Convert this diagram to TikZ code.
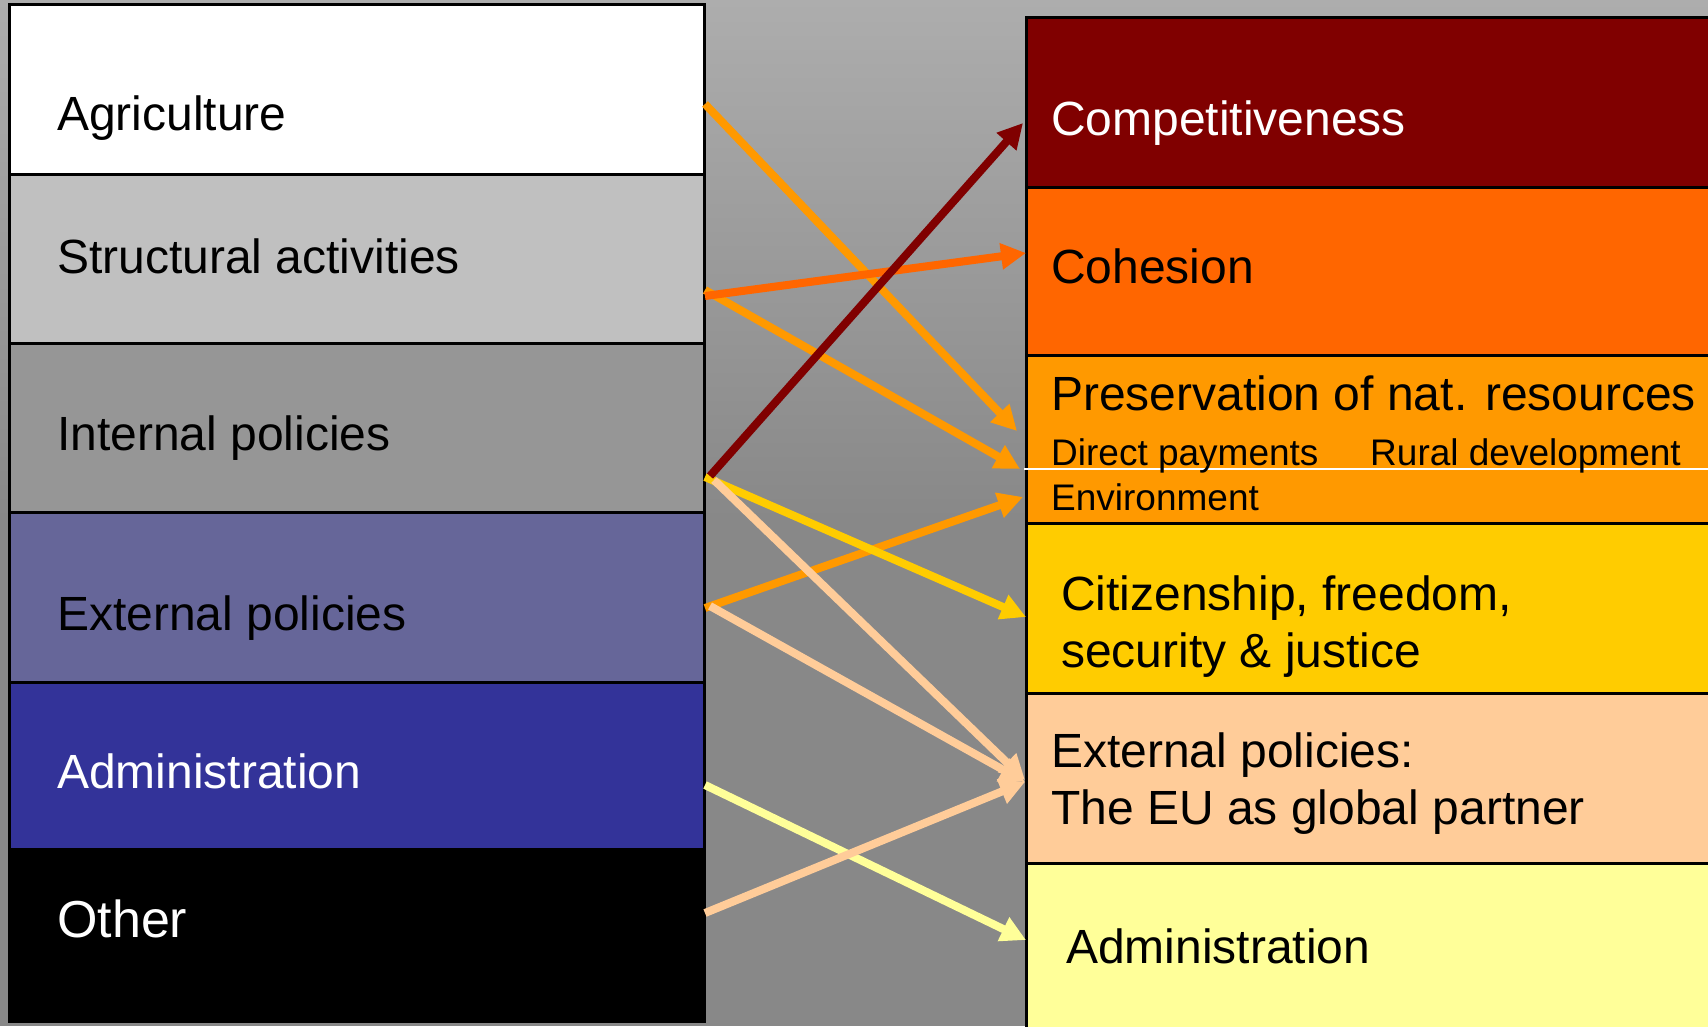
\documentclass[tikz,border=0pt]{standalone}
\usepackage{fontspec}
\setmainfont{Liberation Sans}
\usetikzlibrary{arrows.meta}
\definecolor{bgtop}{HTML}{ADADAD}
\definecolor{bgbot}{HTML}{888888}
\definecolor{cStruct}{HTML}{C0C0C0}
\definecolor{cInt}{HTML}{969696}
\definecolor{cExt}{HTML}{666699}
\definecolor{cAdm}{HTML}{333399}
\definecolor{cComp}{HTML}{800000}
\definecolor{cCoh}{HTML}{FF6600}
\definecolor{cPres}{HTML}{FF9900}
\definecolor{cCit}{HTML}{FFCC00}
\definecolor{cExtR}{HTML}{FFCC99}
\definecolor{cAdmR}{HTML}{FFFF99}
\begin{document}
\begin{tikzpicture}[x=1pt,y=-1pt,
 box/.style={draw=black,line width=3pt,rectangle,anchor=north west,inner sep=0pt,outer sep=0pt},
 lbox/.style={box,minimum width=695pt},
 rbox/.style={box,minimum width=700pt},
 lbl/.style={anchor=base west,inner sep=0pt,font=\fontsize{48}{58}\selectfont},
 sml/.style={anchor=base west,inner sep=0pt,font=\fontsize{37}{44}\selectfont},
 conn/.style={line width=8pt,-{Triangle[length=25pt,width=25pt]}},
]
\useasboundingbox (0,0) rectangle (1708,1026);
% background
\shade[top color=bgtop,bottom color=bgbot] (0,0) rectangle (1708,520);
\fill[bgbot] (0,519) rectangle (1708,1026);

% left column
\node[lbox,fill=white,minimum height=170pt] (agri) at (9,4) {};
\node[lbox,fill=cStruct,minimum height=169pt] (struct) at (9,174) {};
\node[lbox,fill=cInt,minimum height=169pt] (intern) at (9,343) {};
\node[lbox,fill=cExt,minimum height=170pt] (extern) at (9,512) {};
\node[lbox,fill=cAdm,minimum height=167pt] (admin) at (9,682) {};
\node[lbox,fill=black,minimum height=172pt] (other) at (9,849) {};

\node[lbl] (tagri) at (57,130) {Agriculture};
\node[lbl] (tstruct) at (57,273) {Structural activities};
\node[lbl] (tintern) at (57,450) {Internal policies};
\node[lbl] (textern) at (57,630) {External policies};
\node[lbl,text=white] (tadmin) at (57,788) {Administration};
\node[lbl,text=white,font=\fontsize{52}{62}\selectfont] (tother) at (57,937) {Other};

% right column
\node[rbox,fill=cComp,minimum height=170pt] (comp) at (1026,17) {};
\node[rbox,fill=cCoh,minimum height=168pt] (coh) at (1026,187) {};
\node[rbox,fill=cPres,minimum height=168pt] (pres) at (1026,355) {};
\node[rbox,fill=cCit,minimum height=170pt] (cit) at (1026,523) {};
\node[rbox,fill=cExtR,minimum height=170pt] (extr) at (1026,693) {};
\node[rbox,fill=cAdmR,minimum height=200pt] (admr) at (1026,863) {};
\draw[white,line width=2pt] (1024,469) -- (1708,469);

\node[lbl,text=white] (tcomp) at (1051,135) {Competitiveness};
\node[lbl] (tcoh) at (1051,283) {Cohesion};
\node[lbl] (tpres) at (1051,410) {Preservation of nat. resources};
\node[sml] (tdp) at (1051,465) {Direct payments};
\node[sml] (trd) at (1370,465) {Rural development};
\node[sml] (tenv) at (1051,510) {Environment};
\node[lbl] (tcit1) at (1061,610) {Citizenship, freedom,};
\node[lbl] (tcit2) at (1061,667) {security \& justice};
\node[lbl] (textr1) at (1051,767) {External policies:};
\node[lbl] (textr2) at (1051,824) {The EU as global partner};
\node[lbl] (tadmr) at (1066,963) {Administration};

% connector end points
\coordinate (s1) at (705,104);  \coordinate (e1) at (1017,431);
\coordinate (s2) at (705,296);  \coordinate (e2) at (1026,253);
\coordinate (s3) at (705,290);  \coordinate (e3) at (1020,469);
\coordinate (s4) at (710,476);  \coordinate (e4) at (1023,123);
\coordinate (s5) at (705,477);  \coordinate (e5) at (1026,617);
\coordinate (s6) at (714,480);  \coordinate (e6) at (1025,780);
\coordinate (s7) at (705,608);  \coordinate (e7) at (1023,497);
\coordinate (s8) at (710,606);  \coordinate (e8) at (1025,782);
\coordinate (s9) at (705,785);  \coordinate (e9) at (1026,940);
\coordinate (s10) at (705,913); \coordinate (e10) at (1025,782);

% connectors
\draw[conn,cPres] (s1) -- (e1);
\draw[conn,cPres] (s3) -- (e3);
\draw[conn,cCoh] (s2) -- (e2);
\draw[conn,cPres] (s7) -- (e7);
\draw[conn,cCit] (s5) -- (e5);
\draw[conn,cAdmR] (s9) -- (e9);
\draw[conn,cExtR] (s10) -- (e10);
\draw[conn,cExtR] (s8) -- (e8);
\draw[conn,cExtR] (s6) -- (e6);
\draw[conn,cComp] (s4) -- (e4);
\end{tikzpicture}
\end{document}
